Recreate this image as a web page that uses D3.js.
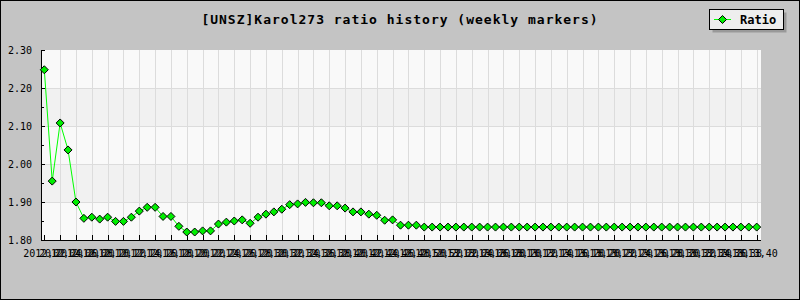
<!DOCTYPE html>
<html>
<head>
<meta charset="utf-8">
<script src="https://cdn.jsdelivr.net/npm/d3@7"></script>
<style>
  body { margin: 0; background: #fff; }
  svg { display: block; }
  text { font-family: "DejaVu Sans Mono", monospace; }
</style>
</head>
<body>
<svg id="chart" width="800" height="300"></svg>
<script>
const title = '[UNSZ]Karol273 ratio history (weekly markers)';
const seriesName = 'Ratio';

// week labels, one per marker
const weeks = [
  '2012,02','2012,03','2012,04','2012,05','2012,06','2012,07','2012,08','2012,09','2012,10','2012,11',
  '2012,12','2012,13','2012,14','2012,15','2012,16','2012,17','2012,18','2012,19','2012,20','2012,21',
  '2012,22','2012,23','2012,24','2012,25','2012,26','2012,27','2012,28','2012,29','2012,30','2012,31',
  '2012,32','2012,33','2012,34','2012,35','2012,36','2012,37','2012,38','2012,39','2012,40','2012,41',
  '2012,42','2012,43','2012,44','2012,45','2012,46','2012,47','2012,48','2012,49','2012,50','2012,51',
  '2012,52','2013,01','2013,02','2013,03','2013,04','2013,05','2013,06','2013,07','2013,08','2013,09',
  '2013,10','2013,11','2013,12','2013,13','2013,14','2013,15','2013,16','2013,17','2013,18','2013,19',
  '2013,20','2013,21','2013,22','2013,23','2013,24','2013,25','2013,26','2013,27','2013,28','2013,29',
  '2013,30','2013,31','2013,32','2013,33','2013,34','2013,35','2013,36','2013,37','2013,38','2013,39',
  '2013,40'
];

const ratio = [
  2.248, 1.955, 2.108, 2.037, 1.900, 1.857, 1.860, 1.855, 1.860, 1.849,
  1.849, 1.860, 1.876, 1.886, 1.886, 1.862, 1.862, 1.836, 1.821, 1.821,
  1.824, 1.824, 1.842, 1.847, 1.850, 1.853, 1.844, 1.860, 1.868, 1.874,
  1.881, 1.893, 1.895, 1.899, 1.898, 1.898, 1.890, 1.890, 1.884, 1.874,
  1.874, 1.868, 1.865, 1.852, 1.853, 1.839, 1.839, 1.839, 1.834, 1.834,
  1.834, 1.834, 1.834, 1.834, 1.834, 1.834, 1.834, 1.834, 1.834, 1.834,
  1.834, 1.834, 1.834, 1.834, 1.834, 1.834, 1.834, 1.834, 1.834, 1.834,
  1.834, 1.834, 1.834, 1.834, 1.834, 1.834, 1.834, 1.834, 1.834, 1.834,
  1.834, 1.834, 1.834, 1.834, 1.834, 1.834, 1.834, 1.834, 1.834, 1.834,
  1.834
];

const yTicks = [1.80, 1.90, 2.00, 2.10, 2.20, 2.30];

const svg = d3.select('#chart');
const W = 800, H = 300;
const plot = {left: 41, right: 761, top: 50, bottom: 240};

// background + frame
svg.append('rect').attr('x', 0.5).attr('y', 0.5).attr('width', W - 1).attr('height', H - 1)
  .attr('fill', '#c4c4c4').attr('stroke', '#000').attr('stroke-width', 1);

// scales
const x = d3.scaleLinear().domain([0, weeks.length - 1]).range([44.3, 756.7]);
const y = d3.scaleLinear().domain([1.8, 2.3]).range([plot.bottom, plot.top]);

// plot background bands
const bands = d3.pairs(yTicks);
svg.append('g').selectAll('rect')
  .data(bands)
  .enter().append('rect')
  .attr('x', plot.left)
  .attr('y', d => y(d[1]))
  .attr('width', plot.right - plot.left)
  .attr('height', d => y(d[0]) - y(d[1]))
  .attr('fill', (d, i) => i % 2 ? '#f1f1f1' : '#f9f9f9');

// grid
const grid = svg.append('g').attr('shape-rendering', 'crispEdges').attr('stroke', '#dcdcdc');
grid.selectAll('.hg')
  .data(yTicks.slice(1, -1))
  .enter().append('line')
  .attr('x1', plot.left).attr('x2', plot.right)
  .attr('y1', d => Math.round(y(d)) + 0.5).attr('y2', d => Math.round(y(d)) + 0.5);
const xTickIdx = d3.range(0, weeks.length, 2);
grid.selectAll('.vg')
  .data(xTickIdx.slice(1))
  .enter().append('line')
  .attr('x1', d => Math.round(x(d)) + 0.5).attr('x2', d => Math.round(x(d)) + 0.5)
  .attr('y1', plot.top).attr('y2', plot.bottom);

// Y axis (ticks inside)
const yAxis = d3.axisRight(y)
  .tickValues(yTicks)
  .tickSize(4)
  .tickFormat('');
const yg = svg.append('g')
  .attr('transform', `translate(${plot.left},0)`)
  .attr('shape-rendering', 'crispEdges')
  .call(yAxis);
yg.select('.domain').attr('d', `M0.5,${plot.top}V${plot.bottom}`);
yg.selectAll('.tick line').attr('stroke', '#000');
// minor ticks
svg.append('g').attr('shape-rendering', 'crispEdges').selectAll('line')
  .data(d3.pairs(yTicks).map(p => (p[0] + p[1]) / 2))
  .enter().append('line')
  .attr('x1', plot.left).attr('x2', plot.left + 3)
  .attr('y1', d => Math.round(y(d)) + 0.5).attr('y2', d => Math.round(y(d)) + 0.5)
  .attr('stroke', '#000');
svg.append('g').selectAll('text')
  .data(yTicks)
  .enter().append('text')
  .attr('x', 32)
  .attr('y', d => y(d) + 4)
  .attr('text-anchor', 'end')
  .attr('font-size', '10px')
  .attr('fill', '#000')
  .text(d => d.toFixed(2));

// X axis
const xAxis = d3.axisTop(x)
  .tickValues(xTickIdx)
  .tickSize(5)
  .tickFormat('');
const xg = svg.append('g')
  .attr('transform', `translate(0,${plot.bottom})`)
  .attr('shape-rendering', 'crispEdges')
  .call(xAxis);
xg.select('.domain').attr('d', `M${plot.left},0.5H${plot.right}`);
xg.selectAll('.tick line').attr('stroke', '#000');
svg.append('g').selectAll('text')
  .data(xTickIdx)
  .enter().append('text')
  .attr('x', d => x(d))
  .attr('y', 257)
  .attr('text-anchor', 'middle')
  .attr('font-size', '10px')
  .attr('fill', '#000')
  .text(d => weeks[d]);

// line
const line = d3.line().x((d, i) => x(i)).y(d => y(d));
svg.append('path')
  .datum(ratio)
  .attr('d', line)
  .attr('fill', 'none')
  .attr('stroke', '#00ff00')
  .attr('stroke-width', 1);

// diamond markers
const diamond = r => `M0,${-r}L${r},0L0,${r}L${-r},0Z`;
svg.append('g').selectAll('path')
  .data(ratio)
  .enter().append('path')
  .attr('d', diamond(4))
  .attr('transform', (d, i) => `translate(${x(i)},${y(d)})`)
  .attr('fill', '#00ee00')
  .attr('stroke', '#000')
  .attr('stroke-width', 1);

// title
svg.append('text')
  .attr('x', 400)
  .attr('y', 24)
  .attr('text-anchor', 'middle')
  .attr('font-size', '13px')
  .attr('font-weight', 'bold')
  .attr('letter-spacing', '1px')
  .text(title);

// legend
const lg = svg.append('g');
lg.append('rect').attr('x', 712.5).attr('y', 12.5).attr('width', 74).attr('height', 20).attr('fill', '#999');
lg.append('rect').attr('x', 709.5).attr('y', 9.5).attr('width', 74).attr('height', 20)
  .attr('fill', '#eeeeee').attr('stroke', '#000');
lg.append('line').attr('x1', 714).attr('x2', 731).attr('y1', 19.5).attr('y2', 19.5)
  .attr('stroke', '#00ff00');
lg.append('path').attr('d', diamond(4)).attr('transform', 'translate(722.5,19.5)')
  .attr('fill', '#00ee00').attr('stroke', '#000');
lg.append('text').attr('x', 740).attr('y', 23.5)
  .attr('font-size', '12px').attr('font-weight', 'bold')
  .text(seriesName);
</script>
</body>
</html>
